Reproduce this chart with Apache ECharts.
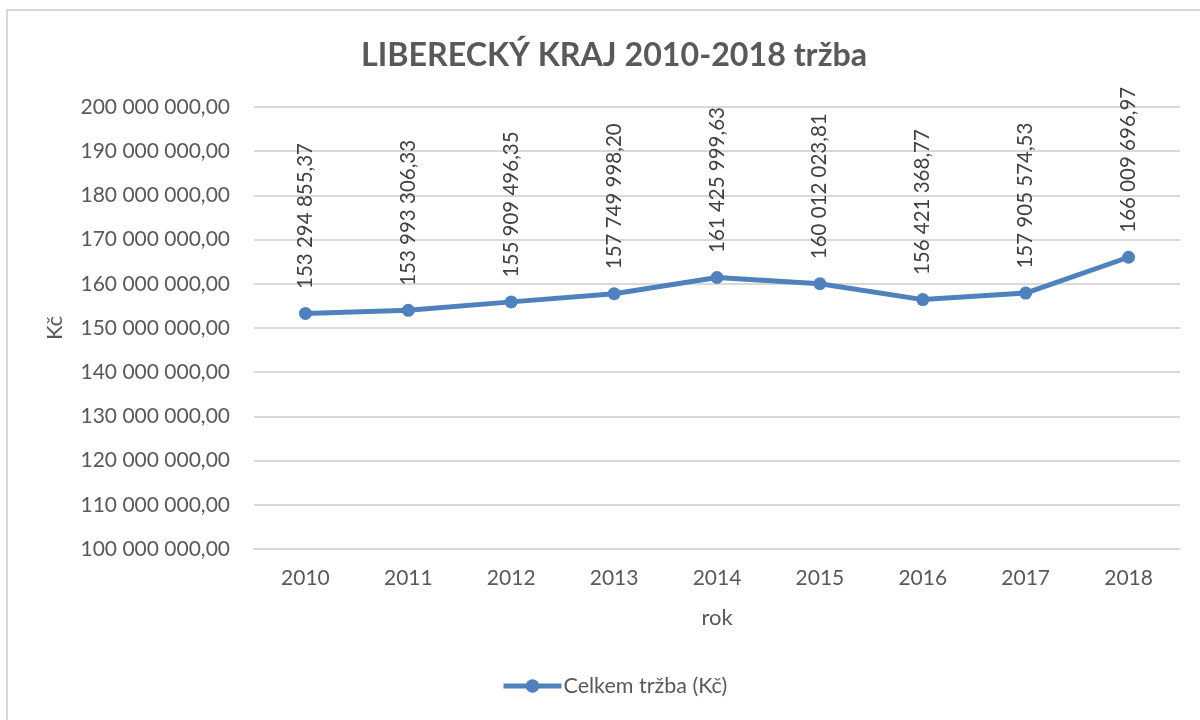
<!DOCTYPE html>
<html>
<head>
<meta charset="utf-8">
<script src="https://cdn.jsdelivr.net/npm/echarts@6/dist/echarts.min.js"></script>
<style>html,body{margin:0;padding:0;background:#fff;}#c{width:1200px;height:720px;}</style>
</head>
<body>
<div id="c"></div>
<script>
const years = ['2010','2011','2012','2013','2014','2015','2016','2017','2018'];
const trzba = [153294855.37, 153993306.33, 155909496.35, 157749998.20, 161425999.63, 160012023.81, 156421368.77, 157905574.53, 166009696.97];
const seriesName = 'Celkem tržba (Kč)';
const titleText = 'LIBERECKÝ KRAJ 2010-2018 tržba';

function fmt(v, dec) {
  const s = v.toFixed(dec);
  const parts = s.split('.');
  const intPart = parts[0].replace(/\B(?=(\d{3})+(?!\d))/g, ' ');
  return dec > 0 ? intPart + ',' + parts[1] : intPart;
}

const chart = echarts.init(document.getElementById('c'));
const FONT = 'Lato';
chart.setOption({
  animation: false,
  backgroundColor: '#fff',
  graphic: [{
    type: 'rect', left: 6, top: 9, z: -10,
    shape: { x: 0, y: 0, width: 1300, height: 800 },
    style: { fill: '#fff', stroke: '#d9d9d9', lineWidth: 2 }
  }],
  title: {
    text: titleText, left: 356, top: 35,
    textStyle: { fontFamily: FONT, fontSize: 32.2, fontWeight: 'bold', color: '#595959' }
  },
  grid: { left: 254, right: 20, top: 107, bottom: 171 },
  legend: {
    bottom: 18, left: 496,
    itemWidth: 58, itemHeight: 17, itemGap: 10,
    lineStyle: { width: 5, color: '#4f81bd' },
    itemStyle: { color: '#4f81bd' },
    textStyle: { fontFamily: FONT, fontSize: 21.5, color: '#595959', padding: [0, 0, 0, -3] },
    data: [seriesName]
  },
  xAxis: {
    type: 'category', data: years, boundaryGap: true,
    name: 'rok', nameLocation: 'middle', nameGap: 58,
    nameTextStyle: { fontFamily: FONT, fontSize: 22, color: '#595959' },
    axisLine: { lineStyle: { color: '#d9d9d9', width: 2 } },
    axisTick: { show: false },
    axisLabel: { fontFamily: FONT, fontSize: 21, color: '#595959', margin: 19 }
  },
  yAxis: {
    type: 'value', min: 100000000, max: 200000000, interval: 10000000,
    name: 'Kč', nameLocation: 'middle', nameGap: 188,
    nameTextStyle: { fontFamily: FONT, fontSize: 22, color: '#595959' },
    axisLine: { show: false }, axisTick: { show: false },
    splitLine: { lineStyle: { color: '#d9d9d9', width: 2 } },
    axisLabel: { fontFamily: FONT, fontSize: 21, color: '#595959', margin: 24,
      formatter: v => fmt(v, 2) }
  },
  series: [{
    name: seriesName, type: 'line', data: trzba,
    symbol: 'circle', symbolSize: 13,
    itemStyle: { color: '#4f81bd' },
    lineStyle: { color: '#4f81bd', width: 5 },
    label: {
      show: true, position: 'top', rotate: 90, distance: 18,
      align: 'left', verticalAlign: 'middle',
      fontFamily: FONT, fontSize: 20.5, color: '#404040',
      formatter: p => fmt(p.value, 2)
    }
  }]
});
</script>
</body>
</html>
